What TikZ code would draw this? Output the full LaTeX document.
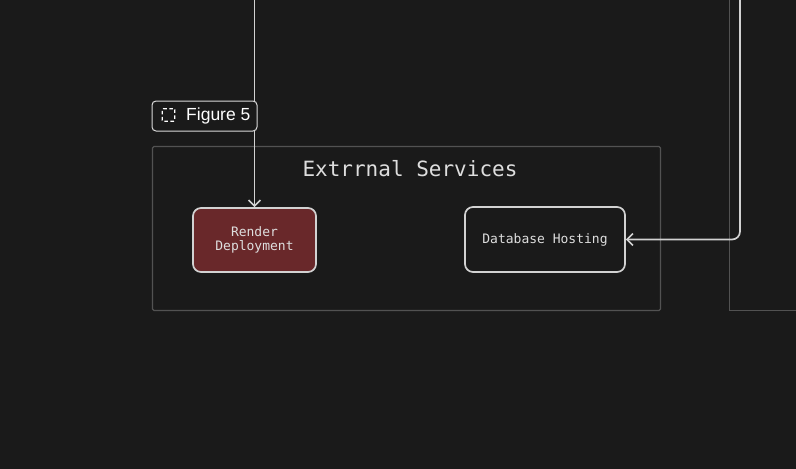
\documentclass[tikz,border=0pt]{standalone}
\usepackage{fontspec}
\setmainfont{Liberation Sans}
\setmonofont{DejaVu Sans Mono}
\usetikzlibrary{arrows.meta,positioning}
\definecolor{bgdark}{HTML}{1A1A1A}
\definecolor{framegray}{HTML}{525252}
\definecolor{edgegray}{HTML}{D2D2D2}
\definecolor{textgray}{HTML}{DEDEDE}
\definecolor{renderred}{HTML}{69282A}
\tikzstyle{frame} = [rectangle,
                      line width=1.3pt,
                      rounded corners=1.5pt,
                      draw=framegray]
\tikzstyle{svc} = [rectangle,
                      line width=1.7pt,
                      rounded corners=8pt,
                      text=textgray,
                      font=\ttfamily\fontsize{13}{13.5}\selectfont,
                      align=center,
                      inner sep=0pt,
                      draw=edgegray,
                      fill=bgdark]
\tikzstyle{tag} = [rectangle,
                      line width=1pt,
                      rounded corners=4pt,
                      text=white,
                      inner sep=0pt,
                      draw=edgegray!85,
                      fill=bgdark]
\tikzstyle{link} = [line width=1.7pt,
                      draw=edgegray,
                      rounded corners=8pt,
                      -{Straight Barb[length=6pt,width=12pt,line width=1.6pt]}]
\begin{document}
\begin{tikzpicture}[x=1pt,y=-1pt]
  % canvas
  \fill[bgdark] (0,0) rectangle (796,469);
  \useasboundingbox (0,0) rectangle (796,469);
  % group frames
  \draw[frame] (152.5,146.5) rectangle (660.5,310.5);
  \draw[frame, rounded corners=0pt] (729.5,-2) |- (798,310.5);
  \node (title) [text=textgray, font=\ttfamily\fontsize{21}{21}\selectfont] at (410,169) {Extrrnal Services};
  % services
  \node (render) [svc, fill=renderred, minimum width=123pt, minimum height=64pt] at (254.5,240) {Render\\Deployment};
  \node (dbhost) [svc, minimum width=160pt, minimum height=65pt] at (545,239.5) {Database Hosting};
  % incoming connectors
  \coordinate (topA) at (254.5,-2);
  \coordinate (topB) at (740,-2);
  \draw[link] (topA) -- (render.north);
  \draw[link] (topB) |- (dbhost.east);
  % figure tag
  \node (fig) [tag, minimum width=105pt, minimum height=30pt] at (204.5,116) {};
  \node (figicon) [draw=white, line width=1.4pt, dash pattern=on 3.5pt off 2.5pt, dash phase=-1pt,
                   rounded corners=1pt, minimum size=12.5pt, inner sep=0pt] at (168.5,115) {};
  \node (figtext) [anchor=west, text=white, font=\fontsize{17.5}{17.5}\selectfont, inner sep=0pt] at (186,115.5) {Figure 5};
\end{tikzpicture}
\end{document}
